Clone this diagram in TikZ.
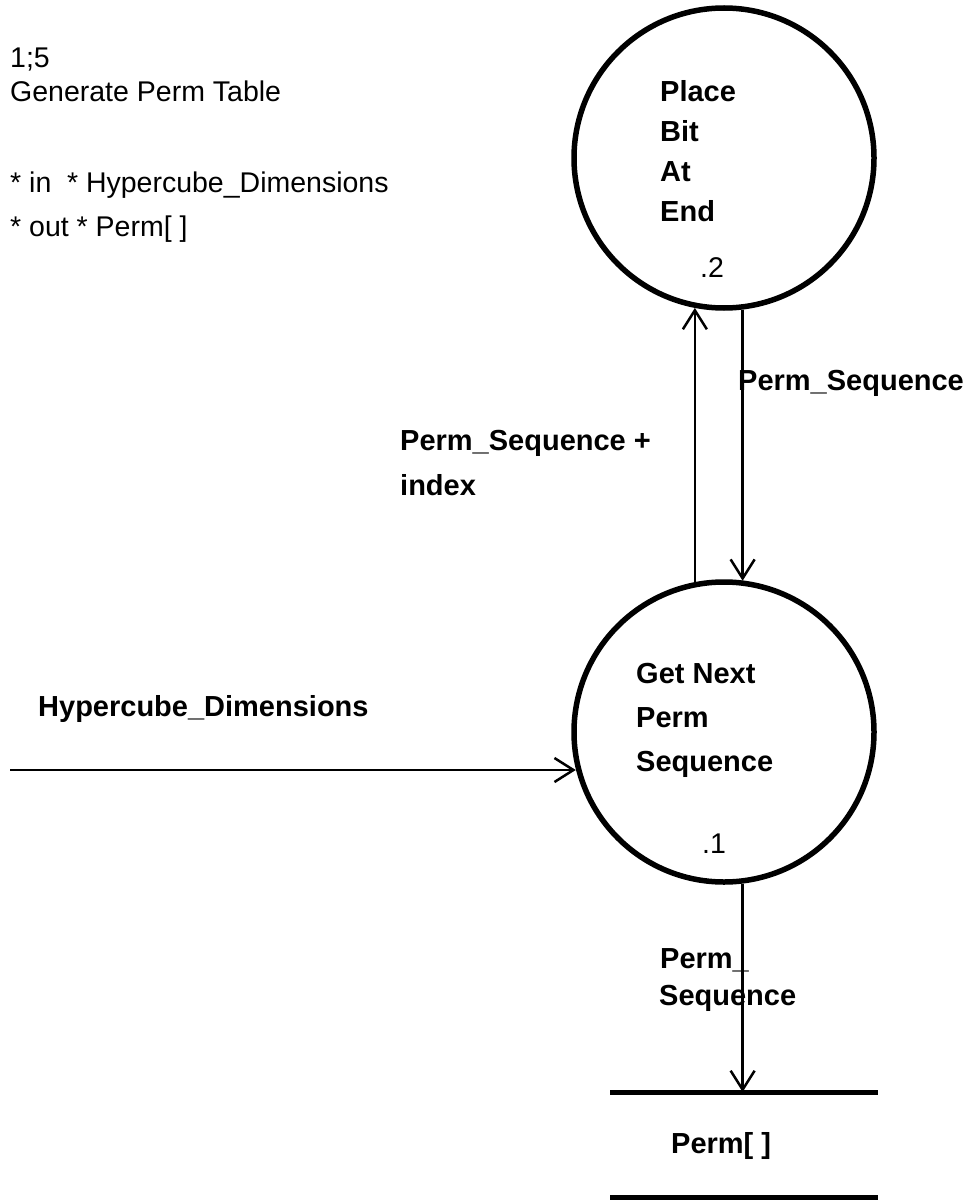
\documentclass[tikz,border=0pt]{standalone}
\usepackage{fontspec}
\setmainfont{Liberation Sans}
\usetikzlibrary{arrows.meta}

\begin{document}
\begin{tikzpicture}[x=1pt,y=-1pt,
  txt/.style={font=\fontsize{28.5}{33}\selectfont, anchor=base west, inner sep=0pt},
  lbl/.style={font=\fontsize{29}{34}\selectfont\bfseries, anchor=base west, inner sep=0pt},
  proc/.style={circle, draw, line width=5.5pt, minimum size=300pt, inner sep=0pt},
  flow/.style={line width=2.5pt, -{Straight Barb[length=19pt,width=24pt,line width=2.5pt]}},
  storeline/.style={line width=5pt},
  storebox/.style={minimum width=268pt, minimum height=105pt, inner sep=0pt, outer sep=0pt}]
\useasboundingbox (0,0) rectangle (970,1201);

% title block
\node[txt] (id)    at (10,68)  {1;5};
\node[txt] (title) at (10,102) {Generate Perm Table};
\node[txt] (inp)   at (10,193) {* in\hspace{0.55em}* Hypercube\_Dimensions};
\node[txt] (outp)  at (10,236) {* out * Perm[ ]};

% process 2
\node[proc] (p2) at (724,158) {};
\node[lbl] (p2a) at (660,102) {Place};
\node[lbl] (p2b) at (660,142) {Bit};
\node[lbl] (p2c) at (660,182) {At};
\node[lbl] (p2d) at (660,222) {End};
\node[txt] (p2n) at (700,277) {.2};

% process 1
\node[proc] (p1) at (724,732) {};
\node[lbl] (p1a) at (636,683) {Get Next};
\node[lbl] (p1b) at (636,727) {Perm};
\node[lbl] (p1c) at (636,771) {Sequence};
\node[txt] (p1n) at (702,853) {.1};

% data store
\node[storebox] (st) at (744,1144.5) {};
\draw[storeline] (st.north west) -- (st.north east);
\draw[storeline] (st.south west) -- (st.south east);
\node[lbl] (stl) at (671,1153) {Perm[ ]};

% flows
\draw[flow] (p2.259.8 |- p1.100.2) -- (p2.259.8);
\draw[flow] (p2.277.2) -- (p2.277.2 |- p1.82.8);
\coordinate (hin) at (10,770);
\draw[flow] (hin) -- (hin -| p1.194.5);
\draw[flow] (p1.277.2) -- (p1.277.2 |- st.north);

% flow labels
\node[lbl] (f1) at (738,390) {Perm\_Sequence};
\node[lbl] (f2a) at (400,450) {Perm\_Sequence +};
\node[lbl] (f2b) at (400,495) {index};
\node[lbl] (f3) at (38,716) {Hypercube\_Dimensions};
\node[lbl] (f4a) at (660,968) {Perm\_};
\node[lbl] (f4b) at (659,1005) {Sequence};
\end{tikzpicture}
\end{document}
